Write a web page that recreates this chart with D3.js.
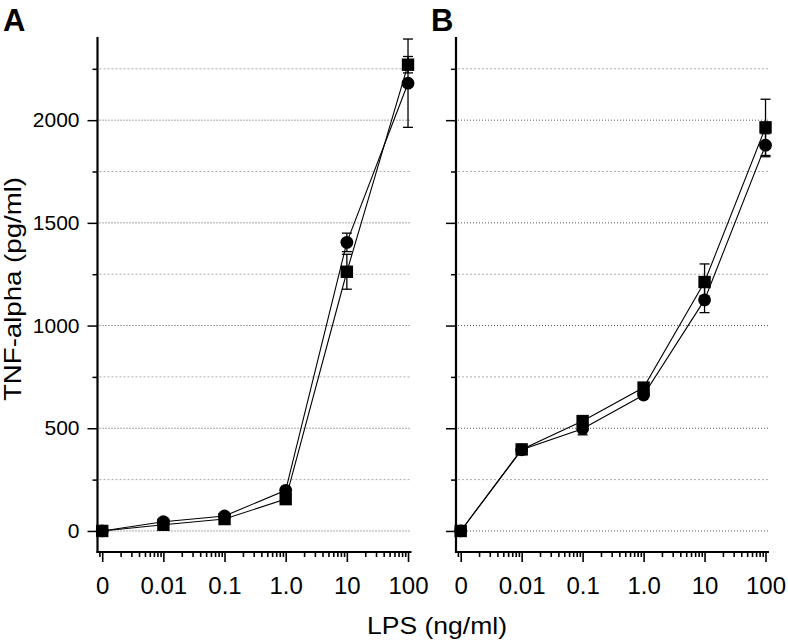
<!DOCTYPE html>
<html><head><meta charset="utf-8">
<script src="https://cdn.jsdelivr.net/npm/d3@7"></script>
<style>
body{margin:0;background:#fff;}
svg{display:block;font-family:"Liberation Sans",Arial,sans-serif;}
</style></head>
<body><svg id="c" width="788" height="640"></svg>
<script>
// LPS doses (0 plotted at 0.001 on the log axis)
const doses = [0.001, 0.01, 0.1, 1, 10, 100];
const xTickLabels = ["0", "0.01", "0.1", "1.0", "10", "100"];
const yMajorTicks = [0, 500, 1000, 1500, 2000];
const yMinorTicks = [250, 750, 1250, 1750, 2250];

// Panel A
const aSquare = [0, 30, 58, 155, 1262, 2270];
const aSquareErr = [0, 0, 0, 0, 85, 40];
const aCircle = [0, 45, 73, 198, 1405, 2180];
const aCircleErr = [0, 0, 0, 0, 45, 215];

// Panel B
const bSquare = [0, 397, 535, 698, 1212, 1965];
const bSquareErr = [0, 0, 15, 15, 88, 137];
const bCircle = [0, 395, 498, 662, 1125, 1878];
const bCircleErr = [0, 0, 30, 12, 62, 56];

const svg = d3.select("#c");
const xDomain = [Math.pow(10, -3.077), Math.pow(10, 2.057)];
const y = d3.scaleLinear().domain([-100, 2400]).range([551.5, 38]);

function minorLogTicks(dom) {
  const t = [];
  for (let e = -4; e <= 2; e++) for (let m = 2; m <= 9; m++) {
    const v = m * Math.pow(10, e);
    if (v >= dom[0] && v <= dom[1]) t.push(v);
  }
  return t;
}

function panel(x0, x1, label, labelX, sq, sqE, ci, ciE, showY) {
  const x = d3.scaleLog().domain(xDomain).range([x0, x1]);
  const g = svg.append("g");
  // gridlines
  g.selectAll("line.gmin").data(yMinorTicks).join("line")
    .attr("x1", x0 + 2).attr("x2", x1).attr("y1", d => y(d)).attr("y2", d => y(d))
    .attr("stroke", "#aaa").attr("stroke-width", 1).attr("stroke-dasharray", "2,2");
  g.selectAll("line.gmaj").data(yMajorTicks).join("line")
    .attr("x1", x0 + 2).attr("x2", x1).attr("y1", d => y(d)).attr("y2", d => y(d))
    .attr("stroke", "#555").attr("stroke-width", 1).attr("stroke-dasharray", "1,2");

  // y axis
  const ya = g.append("g").attr("transform", `translate(${x0},0)`)
    .call(d3.axisLeft(y).tickValues(yMajorTicks).tickSize(10).tickPadding(8).tickSizeOuter(0)
      .tickFormat(showY ? d3.format("d") : () => ""));
  ya.select(".domain").remove();
  const yb = g.append("g").attr("transform", `translate(${x0},0)`)
    .call(d3.axisLeft(y).tickValues(yMinorTicks).tickSize(5).tickFormat(() => ""));
  yb.select(".domain").remove();
  [ya, yb].forEach(a => a.selectAll(".tick line").attr("stroke", "#000").attr("stroke-width", 1.5));
  ya.selectAll("text").attr("font-size", 21).attr("fill", "#000");
  g.append("line").attr("x1", x0).attr("x2", x0).attr("y1", 37).attr("y2", 553)
    .attr("stroke", "#000").attr("stroke-width", 2.2);

  // x axis
  const xa = g.append("g").attr("transform", `translate(0,552)`)
    .call(d3.axisBottom(x).tickValues(doses).tickSize(10).tickPadding(15)
      .tickFormat((d, i) => xTickLabels[i]));
  xa.select(".domain").remove();
  const xb = g.append("g").attr("transform", `translate(0,552)`)
    .call(d3.axisBottom(x).tickValues(minorLogTicks(xDomain)).tickSize(5).tickFormat(() => ""));
  xb.select(".domain").remove();
  [xa, xb].forEach(a => a.selectAll(".tick line").attr("stroke", "#000").attr("stroke-width", 1.6));
  xa.selectAll("text").attr("font-size", 24).attr("fill", "#000");
  g.append("line").attr("x1", x0 - 1).attr("x2", x1).attr("y1", 552).attr("y2", 552)
    .attr("stroke", "#000").attr("stroke-width", 2.2);

  // series lines
  const line = d3.line().x((d, i) => x(doses[i])).y(d => y(d));
  g.append("path").attr("d", line(sq)).attr("fill", "none").attr("stroke", "#000").attr("stroke-width", 1.1);
  g.append("path").attr("d", line(ci)).attr("fill", "none").attr("stroke", "#000").attr("stroke-width", 1.1);

  // error bars
  function err(vals, errs) {
    vals.forEach((v, i) => {
      if (!errs[i]) return;
      const cx = x(doses[i]);
      const lo = y(v - errs[i]), hi = y(v + errs[i]);
      g.append("line").attr("x1", cx).attr("x2", cx).attr("y1", lo).attr("y2", hi).attr("stroke", "#000").attr("stroke-width", 1.3);
      [lo, hi].forEach(yy => g.append("line").attr("x1", cx - 5).attr("x2", cx + 5).attr("y1", yy).attr("y2", yy).attr("stroke", "#000").attr("stroke-width", 1.3));
    });
  }
  err(sq, sqE); err(ci, ciE);

  // markers
  g.selectAll("rect.sq").data(sq).join("rect")
    .attr("x", (d, i) => x(doses[i]) - 6.2).attr("y", d => y(d) - 6.2)
    .attr("width", 12.4).attr("height", 12.4).attr("fill", "#000");
  g.selectAll("circle.ci").data(ci).join("circle")
    .attr("cx", (d, i) => x(doses[i])).attr("cy", d => y(d)).attr("r", 6.4).attr("fill", "#000");

  svg.append("text").attr("x", labelX).attr("y", 31).attr("font-size", 31).attr("font-weight", "bold")
    .attr("fill", "#000").text(label);
}

panel(97.5, 411.5, "A", 3, aSquare, aSquareErr, aCircle, aCircleErr, true);
panel(456, 769, "B", 431, bSquare, bSquareErr, bCircle, bCircleErr, false);

svg.append("text").attr("x", 437).attr("y", 634).attr("text-anchor", "middle")
  .attr("font-size", 24).attr("textLength", 140).attr("lengthAdjust", "spacingAndGlyphs")
  .attr("fill", "#000").text("LPS (ng/ml)");
svg.append("text").attr("transform", "translate(21,289) rotate(-90)").attr("text-anchor", "middle")
  .attr("font-size", 24).attr("textLength", 224).attr("lengthAdjust", "spacingAndGlyphs")
  .attr("fill", "#000").text("TNF-alpha (pg/ml)");
</script></body></html>
